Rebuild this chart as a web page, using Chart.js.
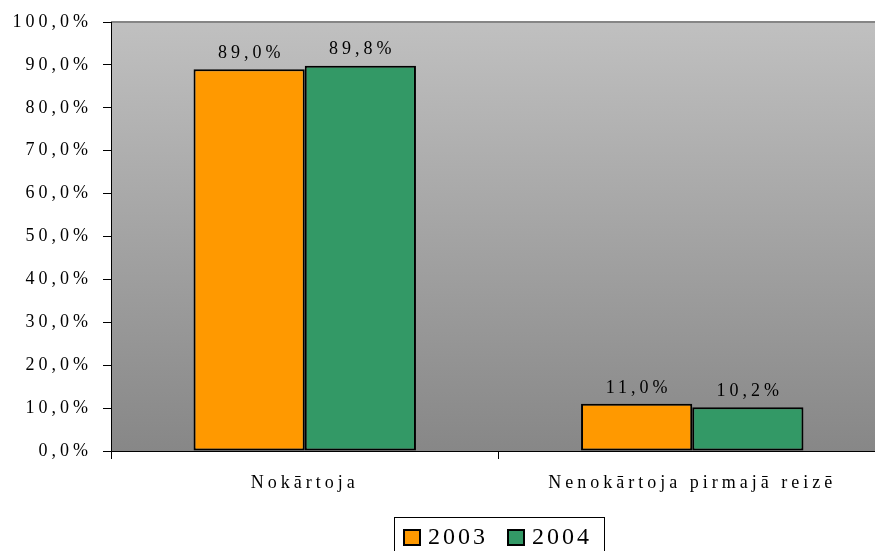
<!DOCTYPE html>
<html lang="lv">
<head>
    <meta charset="UTF-8">
    <title>Nokārtoja / Nenokārtoja</title>
    <script src="https://cdn.jsdelivr.net/npm/chart.js"></script>
    <style>
        html, body {
            margin: 0;
            padding: 0;
            background: #ffffff;
            overflow: hidden;
        }
        .wrap {
            position: absolute;
            left: 0;
            top: 0;
            width: 886px;
            height: 551px;
        }
    </style>
</head>
<body>
    <div class="wrap">
        <canvas id="chart"></canvas>
    </div>

    <script>
        // dati
        const categories = ['Nokārtoja', 'Nenokārtoja pirmajā reizē'];
        const years = ['2003', '2004'];
        const values2003 = [89.0, 11.0];
        const values2004 = [89.8, 10.2];

        const FONT = '"Liberation Serif", "Times New Roman", serif';
        const fmt = v => v.toFixed(1).replace('.', ',') + '%';

        // burtu atstarpes (kā Excel diagrammā)
        const spacing = {
            id: 'spacing',
            beforeLayout(chart) { chart.ctx.letterSpacing = '4px'; },
            beforeDraw(chart) { chart.ctx.letterSpacing = '4px'; }
        };

        // fons ar gradientu
        const plotBg = {
            id: 'plotBg',
            beforeDraw(chart) {
                const ctx = chart.ctx;
                const a = chart.chartArea;
                const g = ctx.createLinearGradient(0, a.top, 0, a.bottom);
                g.addColorStop(0, '#c0c0c0');
                g.addColorStop(1, '#878787');
                ctx.save();
                ctx.fillStyle = g;
                ctx.fillRect(a.left, a.top, a.right - a.left, a.bottom - a.top);
                ctx.strokeStyle = '#858585';
                ctx.lineWidth = 2;
                ctx.beginPath();
                ctx.moveTo(a.left, a.top);
                ctx.lineTo(a.right, a.top);
                ctx.stroke();
                ctx.restore();
            }
        };

        // vērtību etiķetes virs stabiņiem
        const valueLabels = {
            id: 'valueLabels',
            afterDatasetsDraw(chart) {
                const ctx = chart.ctx;
                ctx.save();
                ctx.font = '18px ' + FONT;
                ctx.letterSpacing = '4px';
                ctx.fillStyle = '#000';
                ctx.textAlign = 'center';
                ctx.textBaseline = 'bottom';
                chart.data.datasets.forEach((ds, i) => {
                    chart.getDatasetMeta(i).data.forEach((bar, j) => {
                        ctx.fillText(fmt(ds.data[j]), bar.x + 2, bar.y - 7);
                    });
                });
                ctx.restore();
            }
        };

        // leģenda ar rāmi
        const boxedLegend = {
            id: 'boxedLegend',
            afterDraw(chart) {
                const ctx = chart.ctx;
                const a = chart.chartArea;
                const sw = 18, sh = 17, gapText = 7, gapItem = 19, padL = 9, padR = 12;
                ctx.save();
                ctx.font = '24px ' + FONT;
                ctx.letterSpacing = '3px';
                const items = chart.data.datasets.map(d => ({
                    text: d.label,
                    color: d.backgroundColor,
                    w: ctx.measureText(d.label).width
                }));
                let total = padL + padR;
                items.forEach((it, i) => {
                    total += sw + gapText + it.w + (i < items.length - 1 ? gapItem : 0);
                });
                const cx = (a.left + a.right) / 2;
                const x0 = Math.round(cx - total / 2);
                const y0 = 517;
                ctx.strokeStyle = '#000';
                ctx.lineWidth = 1;
                ctx.strokeRect(x0 + 0.5, y0 + 0.5, total, 50);
                let x = x0 + padL;
                const cy = 537;
                items.forEach(it => {
                    ctx.fillStyle = it.color;
                    ctx.fillRect(x, cy - 8, sw, sh);
                    ctx.lineWidth = 2;
                    ctx.strokeRect(x + 1, cy - 7, sw - 2, sh - 2);
                    x += sw + gapText;
                    ctx.fillStyle = '#000';
                    ctx.textAlign = 'left';
                    ctx.textBaseline = 'middle';
                    ctx.fillText(it.text, x, cy + 1);
                    x += it.w + gapItem;
                });
                ctx.restore();
            }
        };

        const ctx = document.getElementById('chart').getContext('2d');
        new Chart(ctx, {
            type: 'bar',
            data: {
                labels: categories,
                datasets: [{
                    label: years[0],
                    data: values2003,
                    backgroundColor: '#ff9900',
                    borderColor: '#000000',
                    borderWidth: 2,
                    borderSkipped: false
                }, {
                    label: years[1],
                    data: values2004,
                    backgroundColor: '#339966',
                    borderColor: '#000000',
                    borderWidth: 2,
                    borderSkipped: false
                }]
            },
            options: {
                responsive: true,
                maintainAspectRatio: false,
                animation: false,
                layout: { padding: { top: 22, right: 0, left: 0, bottom: 0 } },
                datasets: {
                    bar: { categoryPercentage: 0.574, barPercentage: 1.0 }
                },
                plugins: {
                    legend: { display: false },
                    tooltip: { enabled: false }
                },
                scales: {
                    x: {
                        grid: {
                            offset: true,
                            drawOnChartArea: false,
                            tickLength: 8,
                            color: '#000'
                        },
                        border: { color: '#000', width: 1 },
                        ticks: {
                            color: '#000',
                            padding: 13,
                            font: { family: FONT, size: 18 }
                        },
                        afterFit(scale) { scale.height = 100; }
                    },
                    y: {
                        min: 0,
                        max: 100,
                        ticks: {
                            stepSize: 10,
                            color: '#000',
                            padding: 11,
                            font: { family: FONT, size: 18 },
                            callback: v => fmt(v)
                        },
                        grid: {
                            drawOnChartArea: false,
                            tickLength: 8,
                            color: '#000'
                        },
                        border: { color: '#000', width: 1 },
                        afterFit(scale) { scale.width = 111; }
                    }
                }
            },
            plugins: [spacing, plotBg, valueLabels, boxedLegend]
        });
    </script>
</body>
</html>
